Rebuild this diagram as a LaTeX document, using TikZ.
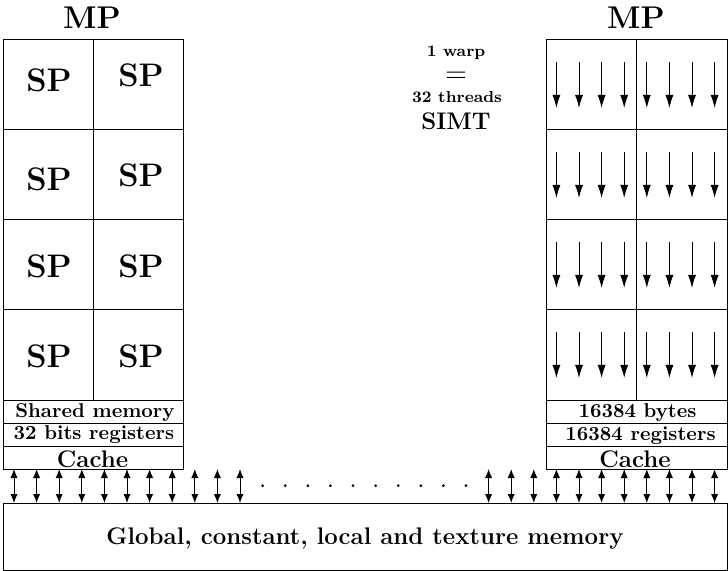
\documentclass[tikz,border=0pt]{standalone}
\usepackage{fontspec}
\usetikzlibrary{arrows.meta}
\begin{document}
\begin{tikzpicture}[x=0.5pt,y=-0.5pt,line width=0.5pt,
  txt/.style={inner sep=0pt,anchor=base,font=\bfseries},
  sptxt/.style={inner sep=0pt,font=\fontsize{16.3}{19}\selectfont\bfseries},
  mptxt/.style={inner sep=0pt,anchor=base,font=\fontsize{15.7}{18}\selectfont\bfseries},
  memtxt/.style={inner sep=0pt,anchor=base,font=\normalsize\bfseries},
  cachetxt/.style={inner sep=0pt,anchor=base,font=\large\bfseries},
  warp/.style={-{Latex[length=6.5pt,width=4pt]}},
  bus/.style={{Latex[length=4.5pt,width=3.6pt]}-{Latex[length=4.5pt,width=3.6pt]}},
  dot/.style={circle,fill=black,inner sep=0pt,minimum size=1.5pt}
]
\useasboundingbox (0,0) rectangle (728,571);

% left MP block
\draw (3.5,40) rectangle (183.5,469);
\foreach \y in {130,220,310,401,424,446.5} \draw (3.5,\y) -- (183.5,\y);
\draw (93.5,40) -- (93.5,401);
% right MP block
\draw (546,40) rectangle (727,469);
\foreach \y in {130,220,310,401,424,446.5} \draw (546,\y) -- (727,\y);
\draw (636.5,40) -- (636.5,401);

% threads of the warps
\foreach \r/\t in {1/40,2/130,3/220,4/310}{
  \foreach \k in {24,...,31}{
    \coordinate (ws\r-\k) at ({14+22.6*\k},{\t+22});
    \coordinate (we\r-\k) at ({14+22.6*\k},{\t+68});
    \draw[warp] (ws\r-\k) -- (we\r-\k);
  }
}

% global memory
\draw (3.5,503) rectangle (727,570);
\node[txt,font=\large\bfseries] (gmem) at (365,544) {Global, constant, local and texture memory};

% bus arrows
\foreach \k in {0,...,10}{
  \coordinate (bt\k) at ({14+22.6*\k},469);
  \coordinate (bb\k) at ({14+22.6*\k},503);
  \draw[bus] (bt\k) -- (bb\k);
}
\foreach \k in {21,...,31}{
  \coordinate (bt\k) at ({14+22.6*\k},469);
  \coordinate (bb\k) at ({14+22.6*\k},503);
  \draw[bus] (bt\k) -- (bb\k);
}
\foreach \k in {11,...,20}
  \node[dot] (d\k) at ({14+22.6*\k},485.7) {};

% labels
\node[mptxt] (mpL) at (92,28.3) {MP};
\node[mptxt] (mpR) at (636,28.3) {MP};

\node[sptxt] (spL1) at (49,80.5) {SP};
\node[sptxt] (spR1) at (141,75) {SP};
\node[sptxt] (spL2) at (49,179) {SP};
\node[sptxt] (spR2) at (141,175) {SP};
\node[sptxt] (spL3) at (49,266) {SP};
\node[sptxt] (spR3) at (141,266) {SP};
\node[sptxt] (spL4) at (49,356.5) {SP};
\node[sptxt] (spR4) at (141,356.5) {SP};

\node[memtxt] (shm) at (95,417) {Shared memory};
\node[memtxt] (reg) at (94,440) {32 bits registers};
\node[cachetxt] (cacheL) at (92.5,467.3) {Cache};
\node[memtxt] (byt) at (637.5,418) {16384 bytes};
\node[memtxt] (regR) at (640.5,441) {16384 registers};
\node[cachetxt] (cacheR) at (635,467.3) {Cache};

\node[txt,font=\footnotesize\bfseries] (w1) at (456,56.5) {1 warp};
\node[inner sep=0pt,anchor=base] (eq) at (456,82.3) {\Large$=$};
\node[txt,font=\footnotesize\bfseries] (w2) at (457,102.7) {32 threads};
\node[txt,font=\large\bfseries] (simt) at (456,130) {SIMT};
\end{tikzpicture}
\end{document}
